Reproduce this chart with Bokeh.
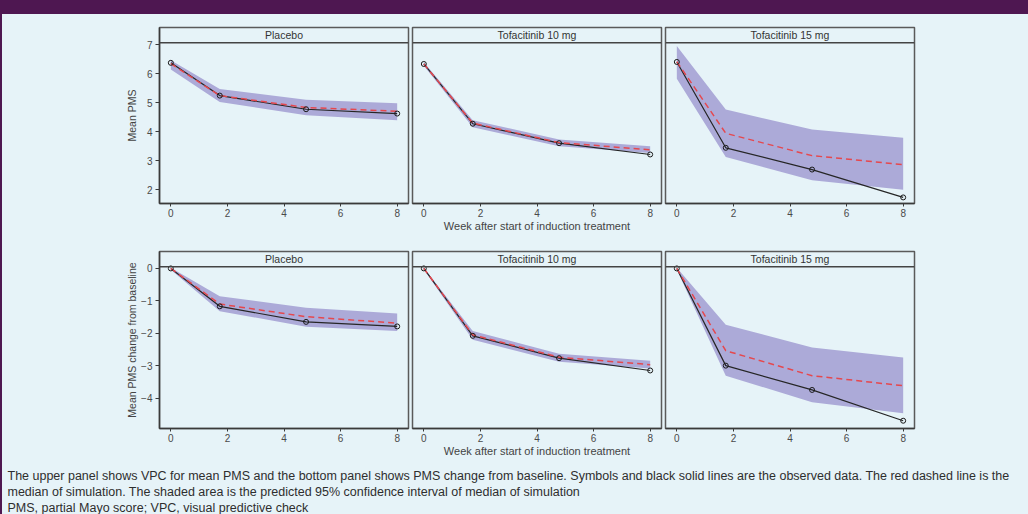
from bokeh.plotting import figure
from bokeh.models import Range1d, FixedTicker, Span, Label, GlobalInlineStyleSheet
from bokeh.layouts import row, column
from bokeh.embed import file_html
from bokeh.resources import INLINE

# ---------------- data ----------------
treatments = ["Placebo", "Tofacitinib 10 mg", "Tofacitinib 15 mg"]
obs_weeks = [0.0, 1.73, 4.78, 8.0]
sim_weeks = [0.0, 1.73, 4.78, 8.0]
x_ticks = [0, 2, 4, 6, 8]

# Upper panel: mean PMS
pms_obs = {
    "Placebo": [6.38, 5.25, 4.78, 4.63],
    "Tofacitinib 10 mg": [6.34, 4.28, 3.61, 3.22],
    "Tofacitinib 15 mg": [6.41, 3.45, 2.70, 1.74],
}
pms_med = {
    "Placebo": [6.35, 5.25, 4.84, 4.71],
    "Tofacitinib 10 mg": [6.34, 4.30, 3.63, 3.38],
    "Tofacitinib 15 mg": [6.42, 3.95, 3.18, 2.87],
}
pms_lo = {
    "Placebo": [6.15, 5.03, 4.57, 4.40],
    "Tofacitinib 10 mg": [6.28, 4.16, 3.50, 3.27],
    "Tofacitinib 15 mg": [5.83, 3.13, 2.33, 2.00],
}
pms_hi = {
    "Placebo": [6.47, 5.48, 5.11, 4.99],
    "Tofacitinib 10 mg": [6.40, 4.40, 3.74, 3.50],
    "Tofacitinib 15 mg": [6.96, 4.77, 4.08, 3.80],
}
pms_y_ticks = [2, 3, 4, 5, 6, 7]

# Lower panel: mean PMS change from baseline
chg_obs = {
    "Placebo": [0.0, -1.17, -1.65, -1.79],
    "Tofacitinib 10 mg": [0.0, -2.08, -2.77, -3.15],
    "Tofacitinib 15 mg": [0.0, -3.00, -3.75, -4.70],
}
chg_med = {
    "Placebo": [0.0, -1.10, -1.49, -1.69],
    "Tofacitinib 10 mg": [0.0, -2.05, -2.74, -2.97],
    "Tofacitinib 15 mg": [0.0, -2.54, -3.31, -3.62],
}
chg_lo = {
    "Placebo": [-0.04, -1.32, -1.80, -1.93],
    "Tofacitinib 10 mg": [-0.03, -2.20, -2.88, -3.09],
    "Tofacitinib 15 mg": [-0.04, -3.31, -4.13, -4.47],
}
chg_hi = {
    "Placebo": [0.02, -0.86, -1.21, -1.39],
    "Tofacitinib 10 mg": [0.02, -1.93, -2.63, -2.85],
    "Tofacitinib 15 mg": [0.02, -1.74, -2.44, -2.75],
}
chg_y_ticks = [0, -1, -2, -3, -4]

y_label_top = "Mean PMS"
y_label_bottom = "Mean PMS change from baseline"
x_label = "Week after start of induction treatment"

caption_lines = [
    "The upper panel shows VPC for mean PMS and the bottom panel shows PMS change from baseline. Symbols and black solid lines are the observed data. The red dashed line is the",
    "median of simulation. The shaded area is the predicted 95% confidence interval of median of simulation",
    "PMS, partial Mayo score; VPC, visual predictive check",
]

# ---------------- style ----------------
FONT = "Liberation Sans"
BG = "#E6F3F8"
PURPLE = "#4E1751"
BAND = "#ACAAD8"
RED = "#E5484E"
DARK = "#262626"
FRAME = "#5A5A5A"
AXIS = "#3A3A3A"
TICK_TXT = "#4A4A4A"

STRIP_PX = 15.3
X_RANGE = (-0.4, 8.4)


def make_panel(name, obs, med, lo, hi, yrange, yticks, height, mbt, mbb,
               first, middle, last, ylabel, ylabel_standoff):
    frame_w = 249
    if first:
        mbl, mbr = 159, 2
    elif last:
        mbl, mbr = 2, 114
    else:
        mbl, mbr = 2, 2
    width = mbl + frame_w + mbr
    frame_h = height - mbt - mbb
    y0, y1 = yrange
    strip = STRIP_PX * (y1 - y0) / (frame_h - STRIP_PX)

    p = figure(width=width, height=height,
               x_range=Range1d(*X_RANGE), y_range=Range1d(y0, y1 + strip),
               output_backend="svg", toolbar_location=None,
               y_axis_location="left" if first else None,
               min_border_left=mbl, min_border_right=mbr,
               min_border_top=mbt, min_border_bottom=mbb)
    p.border_fill_color = None
    p.background_fill_color = None
    p.outline_line_color = FRAME
    p.outline_line_width = 1.5
    p.xgrid.visible = False
    p.ygrid.visible = False

    axes = list(p.xaxis) + (list(p.yaxis) if first else [])
    for ax in axes:
        ax.axis_line_color = AXIS
        ax.axis_line_width = 1.5
        ax.major_tick_line_color = AXIS
        ax.major_tick_line_width = 1
        ax.major_tick_in = 0
        ax.minor_tick_line_color = None
        ax.major_label_text_font = FONT
        ax.major_label_text_font_size = "10px"
        ax.major_label_text_color = TICK_TXT
        ax.axis_label_text_font = FONT
        ax.axis_label_text_font_style = "normal"
        ax.axis_label_text_color = "#444444"
    p.xaxis.ticker = FixedTicker(ticks=x_ticks)
    p.xaxis.major_tick_out = 3
    p.xaxis.major_label_standoff = 2
    if middle:
        p.xaxis.axis_label = x_label
        p.xaxis.axis_label_text_font_size = "11px"
        p.xaxis.axis_label_standoff = 0
    if first:
        p.yaxis.ticker = FixedTicker(ticks=yticks)
        p.yaxis.major_tick_out = 4
        p.yaxis.major_label_standoff = 3
        p.yaxis.axis_label = ylabel
        p.yaxis.axis_label_text_font_size = "10.5px"
        p.yaxis.axis_label_standoff = ylabel_standoff

    # strip header
    p.add_layout(Span(location=y1, dimension="width", line_color="#444444", line_width=1.6))
    p.add_layout(Label(x=(X_RANGE[0] + X_RANGE[1]) / 2, y=y1 + strip / 2, text=name,
                       text_align="center", text_baseline="middle",
                       text_font=FONT, text_font_size="10.5px", text_color="#333333"))

    p.varea(x=sim_weeks, y1=lo, y2=hi, fill_color=BAND, fill_alpha=1.0)
    p.line(obs_weeks, obs, line_color=DARK, line_width=1.2)
    p.line(sim_weeks, med, line_color=RED, line_width=1.5, line_dash="6 4")
    p.scatter(obs_weeks, obs, marker="circle", size=5, fill_color=None,
              line_color="#1A1A1A", line_width=1)
    return p


top = []
bottom = []
for i, t in enumerate(treatments):
    top.append(make_panel(t, pms_obs[t], pms_med[t], pms_lo[t], pms_hi[t],
                          (1.53, 7.07), pms_y_ticks, 236, 27, 33,
                          i == 0, i == 1, i == 2, y_label_top, 6))
    bottom.append(make_panel(t, chg_obs[t], chg_med[t], chg_lo[t], chg_hi[t],
                             (-4.94, 0.05), chg_y_ticks, 225, 15, 33,
                             i == 0, i == 1, i == 2, y_label_bottom, 0))

# caption
cap_h = 53
cap = figure(width=1028, height=cap_h, x_range=Range1d(0, 1028), y_range=Range1d(0, cap_h),
             output_backend="svg", toolbar_location=None,
             x_axis_location=None, y_axis_location=None,
             min_border_left=0, min_border_right=0, min_border_top=0, min_border_bottom=0)
cap.border_fill_color = None
cap.background_fill_color = None
cap.outline_line_color = None
cap.xgrid.visible = False
cap.ygrid.visible = False
for txt, yy in zip(caption_lines, [39, 23, 6.5]):
    cap.add_layout(Label(x=7, y=yy, text=txt, text_align="left", text_baseline="middle",
                         text_font=FONT, text_font_size="12.5px", text_color="#2E2E2E"))

css = GlobalInlineStyleSheet(css=f"""
html {{ min-height: 100%;
  background: linear-gradient({PURPLE},{PURPLE}) no-repeat 0 0 / 100% 14px,
              linear-gradient({PURPLE},{PURPLE}) no-repeat 0 0 / 2px 100%,
              {BG}; }}
body {{ background: transparent; }}
""")

layout = column(row(*top, spacing=0), row(*bottom, spacing=0), cap, spacing=0,
                stylesheets=[css])

open("out.html", "w").write(file_html(layout, INLINE))
